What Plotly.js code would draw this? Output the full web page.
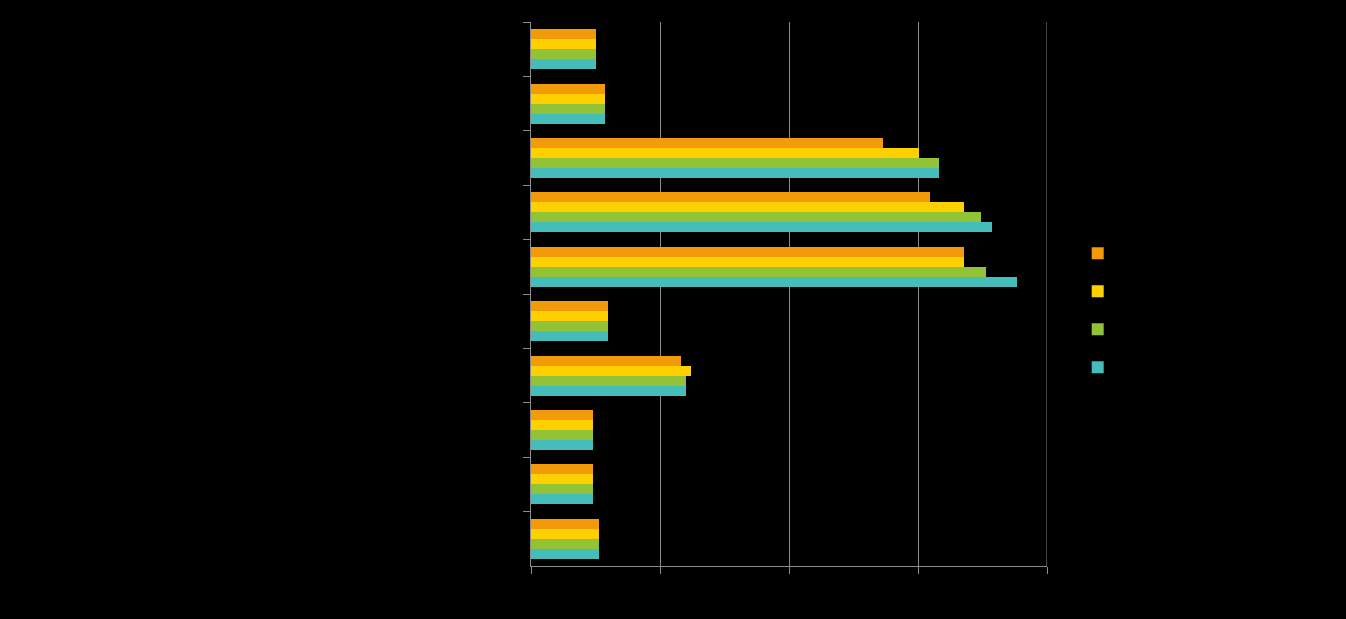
<!DOCTYPE html>
<html>
<head>
<meta charset="utf-8">
<script src="https://cdn.plot.ly/plotly-3.0.1.min.js"></script>
<style>
  html, body { margin: 0; padding: 0; background: #000; }
  #chart { width: 1346px; height: 619px; }
  #chart .bars path { shape-rendering: crispEdges; }
</style>
</head>
<body>
<div id="chart"></div>
<script>
// Categories (top to bottom)
const categories = ["Categoria 1", "Categoria 2", "Categoria 3", "Categoria 4", "Categoria 5",
                    "Categoria 6", "Categoria 7", "Categoria 8", "Categoria 9", "Categoria 10"];
// Series names
const seriesNames = ["Série 1", "Série 2", "Série 3", "Série 4"];
// Series values
const series1 = [5.0, 5.7, 27.3, 30.9, 33.6, 6.0, 11.6, 4.8, 4.8, 5.3];
const series2 = [5.0, 5.7, 30.1, 33.6, 33.6, 6.0, 12.4, 4.8, 4.8, 5.3];
const series3 = [5.0, 5.7, 31.6, 34.9, 35.3, 6.0, 12.0, 4.8, 4.8, 5.3];
const series4 = [5.0, 5.7, 31.6, 35.7, 37.7, 6.0, 12.0, 4.8, 4.8, 5.3];
// X axis ticks
const xTicks = [0, 10, 20, 30, 40];

const colors = ["#F29A0A", "#FFD000", "#92C236", "#44BDBB"];
const gridColor = "#8c8c8c";
const allSeries = [series1, series2, series3, series4];

const traces = allSeries.map((vals, i) => ({
  type: "bar",
  orientation: "h",
  name: seriesNames[i],
  x: vals,
  y: categories,
  marker: { color: colors[i], line: { width: 0 } },
  texttemplate: "%{x:.1f}",
  textposition: "outside",
  constraintext: "none",
  cliponaxis: false,
  textfont: { color: "#000000", size: 10, family: "Liberation Sans, Arial, sans-serif" },
  legendgroup: "g" + i,
  hoverinfo: "x+y+name"
}));

const xMax = xTicks[xTicks.length - 1];

const layout = {
  width: 1346,
  height: 619,
  paper_bgcolor: "#000000",
  plot_bgcolor: "#000000",
  separators: ",.",
  font: { family: "Liberation Sans, Arial, sans-serif", color: "#000000", size: 12 },
  margin: { l: 531, r: 299, t: 22, b: 53, pad: 0 },
  barmode: "group",
  bargap: 0.265,
  bargroupgap: 0,
  showlegend: true,
  legend: {
    x: 1.0595, xanchor: "left",
    y: 0.47, yanchor: "middle",
    traceorder: "grouped",
    tracegroupgap: 19,
    font: { color: "#000000", size: 12 },
    bgcolor: "rgba(0,0,0,0)"
  },
  shapes: [{
    type: "line", xref: "x", yref: "paper",
    x0: xMax, x1: xMax, y0: 0, y1: 1,
    line: { color: gridColor, width: 1 },
    layer: "below"
  }],
  xaxis: {
    range: [0, xMax],
    tickvals: xTicks,
    showgrid: true,
    gridcolor: gridColor,
    gridwidth: 1,
    zeroline: false,
    showline: true,
    linecolor: gridColor,
    linewidth: 1,
    ticks: "outside",
    ticklen: 7,
    tickcolor: gridColor,
    tickfont: { color: "#000000", size: 12 }
  },
  yaxis: {
    type: "category",
    autorange: "reversed",
    showgrid: false,
    zeroline: false,
    showline: true,
    linecolor: gridColor,
    linewidth: 1,
    ticks: "outside",
    tickson: "boundaries",
    ticklen: 7,
    tickcolor: gridColor,
    tickfont: { color: "#000000", size: 12 }
  }
};

Plotly.newPlot("chart", traces, layout, { displayModeBar: false, staticPlot: true });
</script>
</body>
</html>
